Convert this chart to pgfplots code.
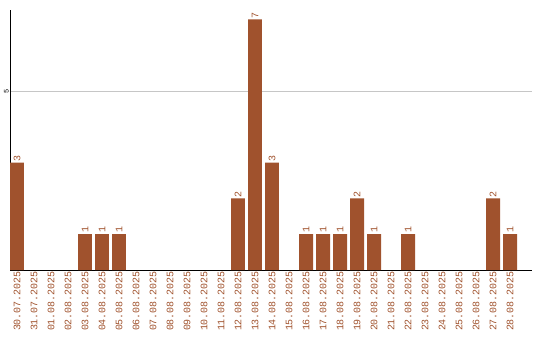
\documentclass[border=0pt]{standalone}
\usepackage{pgfplots}
\pgfplotsset{compat=1.18}
\usepackage{fontspec}
\setmainfont{Liberation Mono}
\definecolor{barc}{HTML}{A0522D}
\begin{document}
\begin{tikzpicture}[x=1bp,y=1bp]
\path[use as bounding box] (0,0) rectangle (540,340);
\begin{axis}[
  at={(10bp,70bp)}, anchor=south west,
  scale only axis, width=522bp, height=260bp,
  xmin=-0.41, xmax=30.29, ymin=0, ymax=7.26,
  axis x line=bottom, axis y line=left,
  axis line style={-, black, line width=1pt},
  xtick={0,...,29},
  xticklabels={30.07.2025,31.07.2025,01.08.2025,02.08.2025,03.08.2025,04.08.2025,05.08.2025,06.08.2025,07.08.2025,08.08.2025,09.08.2025,10.08.2025,11.08.2025,12.08.2025,13.08.2025,14.08.2025,15.08.2025,16.08.2025,17.08.2025,18.08.2025,19.08.2025,20.08.2025,21.08.2025,22.08.2025,23.08.2025,24.08.2025,25.08.2025,26.08.2025,27.08.2025,28.08.2025},
  xticklabel style={rotate=90, anchor=east, font=\fontsize{10}{10}\selectfont, text=barc, inner sep=1pt},
  ytick={5}, yticklabel style={rotate=90, anchor=south, font=\fontsize{7}{7}\selectfont, inner sep=1pt},
  /pgf/number format/assume math mode=true,
  major tick length=0pt,
  ymajorgrids, grid style={gray!45, line width=0.7pt},
  bar width=0.82, ybar, bar shift=0pt,
  nodes near coords={\pgfmathprintnumber{\pgfplotspointmeta}},
  every node near coord/.append style={rotate=90, anchor=west, font=\fontsize{10}{10}\selectfont, text=barc, inner sep=1pt},
  clip=false,
]
\addplot[fill=barc, draw=none] coordinates {
(0,3) (4,1) (5,1) (6,1) (13,2) (14,7) (15,3) (17,1) (18,1) (19,1) (20,2) (21,1) (23,1) (28,2) (29,1)};
\end{axis}
\end{tikzpicture}
\end{document}
